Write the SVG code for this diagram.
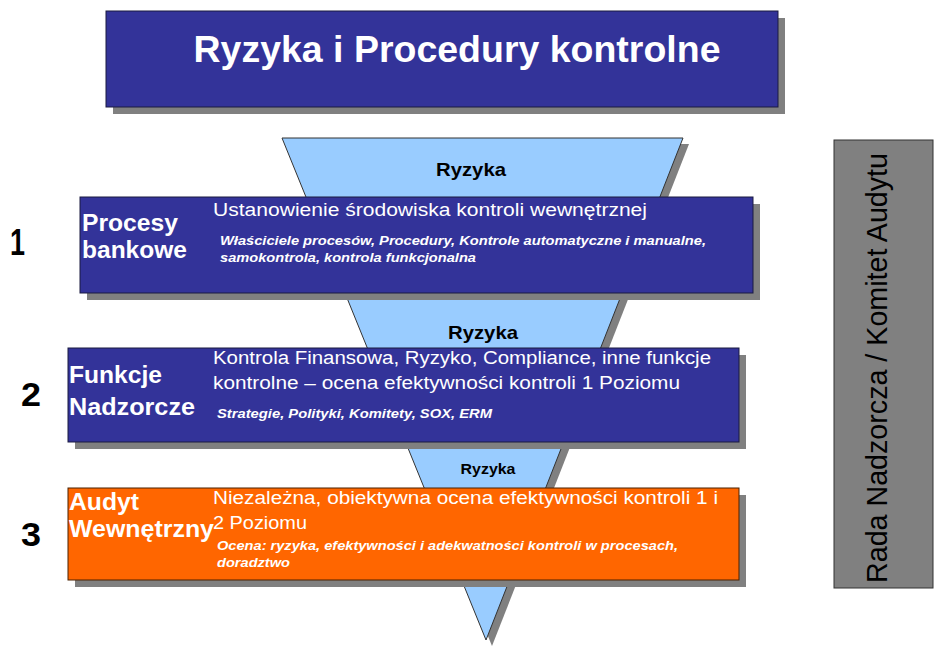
<svg xmlns="http://www.w3.org/2000/svg" width="935" height="646" viewBox="0 0 935 646">
<style>
.shadow{fill:#808080}
.box{fill:#333399;stroke:#1a1a40;stroke-width:1}
.orange{fill:#FF6600;stroke:#4a2000;stroke-width:1}
.funnel{fill:#99CCFF;stroke:#333;stroke-width:1}
.head{font-family:"Liberation Sans",Arial,sans-serif;font-weight:bold;fill:#fff}
.main{font-family:"Liberation Sans",Arial,sans-serif;fill:#fff}
.sub{font-family:"Liberation Sans",Arial,sans-serif;font-weight:bold;font-style:italic;fill:#fff;font-size:13px}
.num{font-family:"Liberation Sans",Arial,sans-serif;font-weight:bold;fill:#000}
.risk{font-family:"Liberation Sans",Arial,sans-serif;font-weight:bold;fill:#000;text-anchor:middle}
</style>
<rect width="935" height="646" fill="#fff"/>
<g id="title">
<rect class="shadow" x="113" y="18" width="672" height="96"/>
<rect class="box" x="106" y="11" width="672" height="96"/>
<text class="head" x="457" y="62" font-size="37" text-anchor="middle" textLength="527" lengthAdjust="spacingAndGlyphs">Ryzyka i Procedury kontrolne</text>
</g>
<g id="funnel">
<polygon class="shadow" points="288,144 689,144 492,646"/>
<polygon class="funnel" points="282,138 683,138 486,640"/>
<text class="risk" x="471" y="176" font-size="19" textLength="70" lengthAdjust="spacingAndGlyphs">Ryzyka</text>
<text class="risk" x="483" y="339" font-size="19" textLength="70" lengthAdjust="spacingAndGlyphs">Ryzyka</text>
<text class="risk" x="488" y="474" font-size="15" textLength="55" lengthAdjust="spacingAndGlyphs">Ryzyka</text>
</g>
<g id="level1">
<text class="num" x="10" y="255" font-size="37" textLength="15" lengthAdjust="spacingAndGlyphs">1</text>
<rect class="shadow" x="87" y="204" width="673" height="96"/>
<rect class="box" x="80" y="197" width="673" height="96"/>
<text class="head" x="82" y="231" font-size="23" textLength="96" lengthAdjust="spacingAndGlyphs">Procesy</text>
<text class="head" x="82" y="258" font-size="23" textLength="105" lengthAdjust="spacingAndGlyphs">bankowe</text>
<text class="main" x="213" y="216" font-size="18" textLength="434" lengthAdjust="spacingAndGlyphs">Ustanowienie środowiska kontroli wewnętrznej</text>
<text class="sub" x="220" y="245" textLength="486" lengthAdjust="spacingAndGlyphs">Właściciele procesów, Procedury, Kontrole automatyczne i manualne,</text>
<text class="sub" x="220" y="262" textLength="256" lengthAdjust="spacingAndGlyphs">samokontrola, kontrola funkcjonalna</text>
</g>
<g id="level2">
<text class="num" x="21" y="406" font-size="33" textLength="20" lengthAdjust="spacingAndGlyphs">2</text>
<rect class="shadow" x="75" y="355" width="671" height="94"/>
<rect class="box" x="68" y="348" width="671" height="94"/>
<text class="head" x="69" y="383" font-size="24" textLength="93" lengthAdjust="spacingAndGlyphs">Funkcje</text>
<text class="head" x="69" y="415" font-size="24" textLength="126" lengthAdjust="spacingAndGlyphs">Nadzorcze</text>
<text class="main" x="213" y="364" font-size="18" textLength="498" lengthAdjust="spacingAndGlyphs">Kontrola Finansowa, Ryzyko, Compliance, inne funkcje</text>
<text class="main" x="213" y="389" font-size="18" textLength="467" lengthAdjust="spacingAndGlyphs">kontrolne – ocena efektywności kontroli 1 Poziomu</text>
<text class="sub" x="217" y="418" textLength="275" lengthAdjust="spacingAndGlyphs">Strategie, Polityki, Komitety, SOX, ERM</text>
</g>
<g id="level3">
<text class="num" x="21" y="546" font-size="33" textLength="20" lengthAdjust="spacingAndGlyphs">3</text>
<rect class="shadow" x="75" y="495" width="671" height="92"/>
<rect class="orange" x="68" y="488" width="671" height="92"/>
<text class="head" x="69" y="510" font-size="23" textLength="70" lengthAdjust="spacingAndGlyphs">Audyt</text>
<text class="head" x="69" y="537" font-size="23" textLength="145" lengthAdjust="spacingAndGlyphs">Wewnętrzny</text>
<text class="main" x="213" y="504" font-size="18" textLength="505" lengthAdjust="spacingAndGlyphs">Niezależna, obiektywna ocena efektywności kontroli 1 i</text>
<text class="main" x="213" y="529" font-size="18" textLength="94" lengthAdjust="spacingAndGlyphs">2 Poziomu</text>
<text class="sub" x="217" y="550" textLength="461" lengthAdjust="spacingAndGlyphs">Ocena: ryzyka, efektywności i adekwatności kontroli w procesach,</text>
<text class="sub" x="217" y="567" textLength="73" lengthAdjust="spacingAndGlyphs">doradztwo</text>
</g>
<g id="board">
<rect x="834" y="140" width="99" height="448" fill="#808080" stroke="#333" stroke-width="1"/>
<text font-family="'Liberation Sans',Arial,sans-serif" font-size="29" fill="#000" text-anchor="middle" transform="translate(887,368) rotate(-90)" textLength="430" lengthAdjust="spacingAndGlyphs">Rada Nadzorcza / Komitet Audytu</text>
</g>
<g id="connectors"></g>
</svg>
